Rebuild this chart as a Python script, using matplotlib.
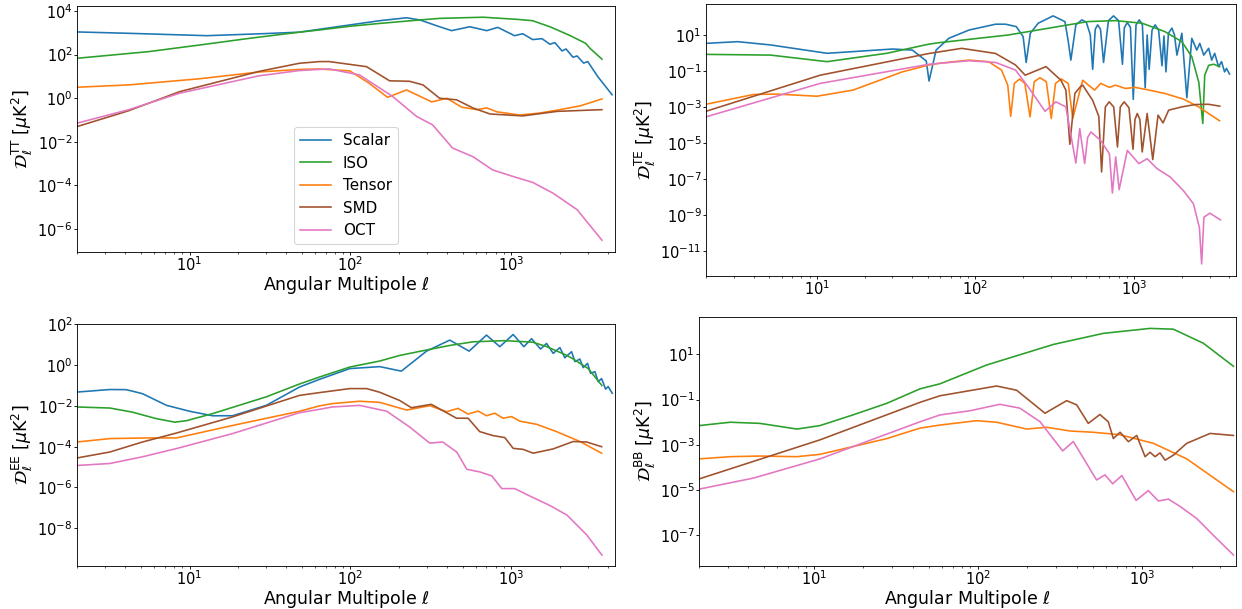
import matplotlib
matplotlib.use("Agg")
import matplotlib.pyplot as plt

# ---------------- TT ----------------
tt_ell_scalar = [2, 4.2, 12.8, 27, 48, 64, 99, 152, 223, 270, 358, 425, 551, 703, 822, 1046, 1176,
                 1354, 1548, 1735, 1863, 2061, 2184, 2413, 2557, 2810, 2980, 3440, 4220]
tt_scalar = [1100, 950, 740, 900, 1070, 1450, 2300, 3600, 4900, 3900, 1900, 1260, 1900, 1260, 1780,
             740, 910, 490, 540, 300, 355, 148, 182, 76, 87, 41, 48, 9.8, 1.45]
tt_ell_iso = [2, 5.6, 11.5, 23.6, 48, 64, 99, 152, 270, 358, 666, 1085, 1354, 1502, 1735, 2314,
              2890, 3076, 3650]
tt_iso = [68, 138, 275, 560, 1070, 1350, 2000, 2700, 3900, 4600, 5200, 4150, 3600, 2750, 1900, 750,
          330, 195, 62]
tt_ell_tensor = [2, 4.2, 11.5, 27, 48, 64, 99, 130, 170, 223, 320, 397, 490, 610, 703, 810, 1123,
                 1502, 2002, 2682, 3650]
tt_tensor = [3.2, 4.1, 7.8, 16, 21, 22, 18, 5, 1.1, 2.4, 0.68, 1.0, 0.39, 0.30, 0.36, 0.24, 0.17,
             0.21, 0.30, 0.45, 0.93]
tt_ell_smd = [2, 4.2, 8.67, 27, 48, 64, 74, 126, 175, 233, 282, 358, 456, 576, 736, 1176, 1919, 3650]
tt_smd = [0.05, 0.27, 2.0, 17, 40, 48, 48, 28, 6.3, 6.0, 4.1, 1.0, 0.85, 0.36, 0.19, 0.155, 0.25, 0.30]
tt_ell_oct = [2, 4.2, 8.67, 27, 48, 64, 74, 114, 183, 258, 324, 431, 576, 763, 1020, 1354, 1808,
              2557, 3650]
tt_oct = [0.072, 0.3, 1.7, 10.7, 18.6, 21, 22, 11.7, 1.2, 0.145, 0.06, 0.0052, 0.0021, 5.2e-4,
          2.6e-4, 1.39e-4, 4.5e-5, 7.8e-6, 3.1e-7]

# ---------------- TE ----------------
te_ell_scalar = [2, 3.17, 5.1, 11.6, 30, 40, 49, 51, 56.5, 68, 91, 134, 155, 181, 200, 209, 222, 249,
                 309, 367, 384, 400, 430, 469, 500, 530, 549, 570, 590, 615, 643, 690, 743, 800, 846,
                 870, 908, 950, 990, 1030, 1080, 1130, 1177, 1211, 1247, 1300, 1360, 1430, 1502,
                 1546, 1591, 1650, 1735, 1800, 1866, 2005, 2155, 2316, 2489, 2601, 2754, 2958, 3090,
                 3228, 3416, 3566, 3726, 3831, 4003]
te_scalar = [3.3, 4.1, 2.7, 0.93, 1.6, 1.4, 0.35, 0.027, 1.4, 6.3, 18, 38, 38, 28, 7.8, 0.29, 12, 43,
             110, 53, 5, 0.39, 35, 66, 50, 10, 0.12, 20, 35, 20, 0.29, 60, 110, 60, 0.23,
             25, 47, 25, 0.0026, 35, 66, 35, 0.0114, 9.6, 0.12, 18, 35, 18, 0.19,
             8.5, 0.087, 12, 23, 10, 0.74, 12, 0.0032, 6.3, 1.4, 3.3, 0.74, 1.75, 0.39,
             0.93, 0.17, 0.32, 0.087, 0.135, 0.066]
te_ell_iso = [2, 5.1, 11.6, 27.6, 51, 59, 161, 511, 764, 1127, 1570, 2005, 2316, 2564, 2716, 2794,
              2958, 3184, 3470]
te_iso = [0.81, 0.74, 0.32, 0.93, 3.0, 3.6, 9.6, 53, 60, 43, 14.7, 4.1, 0.6, 0.023, 1.2e-4, 0.057,
          0.2, 0.23, 0.17]
te_ell_tensor = [2, 4.0, 5.65, 10, 16.9, 34.6, 51, 59, 91, 121, 146, 160, 167, 176, 190, 205, 221,
                 235, 255, 280, 301, 320, 348, 385, 411, 475, 526, 565, 616, 701, 764, 883, 1019,
                 1247, 1570, 2050, 2559, 3467]
te_tensor = [0.0014, 0.0049, 0.0051, 0.0039, 0.0085, 0.087, 0.21, 0.26, 0.39, 0.32, 0.11, 0.016,
             3.0e-4, 0.02, 0.035, 0.02, 2.8e-4, 0.025, 0.041, 0.025, 2.3e-4, 0.02, 0.035, 0.02,
             2.3e-4, 0.03, 0.014, 0.0085, 0.02, 0.012, 0.016, 0.0105, 0.012, 0.0085, 0.0055,
             0.0027, 0.001, 1.7e-4]
te_ell_smd = [2, 10.5, 51, 82, 134, 179, 206, 279, 346, 372, 394, 424, 462, 475, 549, 600, 625, 660,
              698, 745, 787, 820, 867, 930, 986, 1015, 1049, 1090, 1127, 1211, 1314, 1419, 1525,
              1655, 2005, 2427, 2943, 3477]
te_smd = [5.7e-4, 0.057, 0.91, 1.75, 0.91, 0.21, 0.057, 0.17, 0.03, 0.0085, 8.5e-6, 0.0056, 0.014,
          0.016, 0.0023, 3e-4, 2.5e-7, 0.001, 0.0019, 0.001, 6e-6, 0.001, 0.0019, 0.0009, 4.5e-6,
          2e-4, 4.3e-4, 2e-4, 3.2e-6, 4.3e-4, 1.2e-6, 3.5e-4, 1.3e-4, 6.6e-4, 0.001, 0.00135,
          0.0014, 0.0011]
te_ell_oct = [2, 10.5, 51, 91, 134, 179, 215, 275, 322, 372, 430, 455, 489, 510, 535, 616, 700, 731,
              767, 806, 908, 1074, 1211, 1398, 1694, 2050, 2371, 2585, 2672, 2762, 3011, 3513]
te_oct = [2.8e-4, 0.02, 0.23, 0.36, 0.29, 0.11, 0.013, 5.7e-4, 0.0019, 0.001, 7.8e-7, 6.3e-5,
          7.3e-7, 2e-5, 4.1e-5, 1.4e-5, 2.5e-6, 1.7e-8, 1.7e-6, 2.6e-8, 3.9e-6, 7.2e-7, 1.35e-6,
          3.8e-7, 1.3e-7, 2.3e-8, 4.3e-9, 2.1e-10, 2e-12, 7.8e-10, 1.3e-9, 5.5e-10]

# ---------------- EE ----------------
ee_ell_scalar = [2, 3.2, 4.05, 5.1, 7.2, 10, 13.9, 18.5, 30, 48.3, 64, 99, 152, 207, 297, 414, 546,
                 700, 847, 1025, 1195, 1334, 1517, 1653, 1817, 2000, 2148, 2364, 2479, 2663, 2790,
                 2972, 3101, 3301, 3461, 3633, 3846, 3992, 4229]
ee_scalar = [0.048, 0.064, 0.063, 0.04, 0.0107, 0.0055, 0.0033, 0.0033, 0.0107, 0.085, 0.2, 0.68,
             0.85, 0.51, 4.9, 17, 4.9, 30, 8.1, 32, 8.1, 20, 6.2, 11.7, 3.8, 7.3, 2.3, 4.6, 1.5,
             2.0, 0.76, 1.23, 0.40, 0.48, 0.155, 0.22, 0.067, 0.089, 0.042]
ee_ell_iso = [2, 3.2, 4.4, 6.2, 8.1, 9.6, 13.9, 30, 48.3, 64, 99, 152, 202, 281, 414, 576, 900,
              1354, 1660, 2214, 2400, 3000, 3650]
ee_iso = [0.0089, 0.0079, 0.005, 0.0024, 0.0016, 0.0019, 0.0042, 0.028, 0.12, 0.26, 0.81, 1.6, 3.0,
          5.1, 9.3, 14, 16, 13.5, 8.1, 3.0, 2.1, 0.68, 0.10]
ee_ell_tensor = [2, 3.2, 5.6, 8.3, 11, 18.5, 48.3, 64, 77, 114, 152, 223, 311, 395, 466, 538, 621,
                 700, 788, 888, 1002, 1128, 1432, 1907, 2663, 3633]
ee_tensor = [1.7e-4, 2.5e-4, 2.7e-4, 2.7e-4, 4.4e-4, 0.0011, 0.0055, 0.01, 0.013, 0.017, 0.015,
             0.0063, 0.0103, 0.0052, 0.0076, 0.004, 0.0056, 0.0033, 0.0044, 0.0025, 0.003, 0.0018,
             0.00126, 5.5e-4, 1.8e-4, 4.8e-5]
ee_ell_smd = [2, 3.2, 5.1, 8.3, 18.5, 48.3, 64, 99, 126, 152, 202, 239, 318, 456, 538, 635, 769, 910,
              1025, 1182, 1365, 1817, 2419, 2930, 3633]
ee_smd = [2.8e-5, 5.5e-5, 1.7e-4, 4.7e-4, 0.0029, 0.033, 0.045, 0.071, 0.071, 0.047, 0.0186,
          0.0082, 0.012, 0.0025, 0.0025, 5.5e-4, 3.5e-4, 2.8e-4, 8.3e-5, 7.4e-5, 4.8e-5, 7.8e-5,
          1.8e-4, 1.7e-4, 1.0e-4]
ee_ell_oct = [2, 3.2, 5.1, 8.3, 18.5, 48.3, 64, 77, 114, 168, 233, 311, 374, 457, 528, 636, 755, 871,
              1049, 1301, 1735, 2214, 2944, 3650]
ee_oct = [1.2e-5, 1.5e-5, 3.2e-5, 8.1e-5, 4.4e-4, 0.0047, 0.0068, 0.0089, 0.0107, 0.0055, 9.3e-4,
          1.5e-4, 1.7e-4, 5.5e-5, 7.8e-6, 5.8e-6, 3.7e-6, 8.8e-7, 8.8e-7, 3.8e-7, 1.3e-7, 4.4e-8,
          4.6e-9, 4.8e-10]

# ---------------- BB ----------------
bb_ell_iso = [2, 3.1, 4.7, 7.9, 10.9, 17.3, 27.9, 44.4, 58.7, 113, 288, 580, 1117, 1549, 2361, 3597]
bb_iso = [0.0071, 0.01, 0.0089, 0.005, 0.0071, 0.021, 0.069, 0.3, 0.5, 3.4, 27.5, 85, 141, 130, 31, 3.0]
bb_ell_tensor = [2, 3.1, 4.7, 7.9, 10.9, 27.9, 44.4, 58.7, 98, 130, 198, 262, 364, 504, 734, 1170,
                 1870, 3597]
bb_tensor = [2.4e-4, 3.0e-4, 3.2e-4, 3.0e-4, 3.8e-4, 0.0019, 0.0055, 0.0075, 0.0117, 0.01, 0.005,
             0.006, 0.0041, 0.0036, 0.0028, 0.00117, 2.4e-4, 8.5e-6]
bb_ell_smd = [2, 10.9, 44.4, 58.7, 130, 172, 256, 347, 399, 470, 553, 622, 668, 734, 825, 927, 1042,
              1117, 1199, 1285, 1380, 1549, 1870, 2594, 3597]
bb_smd = [3.1e-5, 0.00166, 0.076, 0.148, 0.4, 0.26, 0.025, 0.09, 0.059, 0.0089, 0.022, 0.0105,
          0.0019, 0.0036, 0.00138, 0.0026, 3.0e-4, 4.7e-4, 3.0e-4, 4.4e-4, 2.1e-4, 3.5e-4, 0.00117,
          0.0032, 0.0026]
bb_ell_oct = [2, 4.3, 10.9, 44.4, 58.7, 89, 136, 180, 239, 328, 381, 528, 594, 662, 752, 919, 1091,
              1256, 1445, 1702, 2152, 2716, 3597]
bb_oct = [1.1e-5, 3.4e-5, 2.4e-4, 0.0105, 0.021, 0.032, 0.062, 0.042, 0.0105, 5.4e-4, 0.0014,
          2.8e-5, 4.7e-5, 1.9e-5, 4.4e-5, 3.5e-6, 9.5e-6, 3.3e-6, 4e-6, 1.9e-6, 5.5e-7, 1.0e-7,
          1.35e-8]

labels = ["Scalar", "ISO", "Tensor", "SMD", "OCT"]
colors = ["tab:blue", "tab:green", "tab:orange", "sienna", "tab:pink"]

panels = [
    ("TT", [(tt_ell_scalar, tt_scalar), (tt_ell_iso, tt_iso), (tt_ell_tensor, tt_tensor),
            (tt_ell_smd, tt_smd), (tt_ell_oct, tt_oct)],
     [77, 6, 615, 252], (8.9e-8, 1.7e4), 4400, True),
    ("TE", [(te_ell_scalar, te_scalar), (te_ell_iso, te_iso), (te_ell_tensor, te_tensor),
            (te_ell_smd, te_smd), (te_ell_oct, te_oct)],
     [706, 4, 1236, 276], (4.3e-13, 500), 4400, False),
    ("EE", [(ee_ell_scalar, ee_scalar), (ee_ell_iso, ee_iso), (ee_ell_tensor, ee_tensor),
            (ee_ell_smd, ee_smd), (ee_ell_oct, ee_oct)],
     [77, 324, 615, 566], (1.4e-10, 105), 4400, True),
    ("BB", [None, (bb_ell_iso, bb_iso), (bb_ell_tensor, bb_tensor),
            (bb_ell_smd, bb_smd), (bb_ell_oct, bb_oct)],
     [699, 317, 1236, 566], (4.4e-9, 450), 3730, True),
]

W, H = 1242, 609
DPI = 78
fig = plt.figure(figsize=(W / DPI, H / DPI), dpi=DPI)

for name, series, box, ylim, xmax, show_xlabel in panels:
    x0, y0, x1, y1 = box
    ax = fig.add_axes([x0 / W, 1 - y1 / H, (x1 - x0) / W, (y1 - y0) / H])
    for s, lab, col in zip(series, labels, colors):
        if s is None:
            continue
        ax.plot(s[0], s[1], color=col, lw=1.5, label=lab)
    ax.set_xscale("log")
    ax.set_yscale("log")
    ax.set_xlim(2, xmax)
    ax.set_ylim(*ylim)
    ax.tick_params(labelsize=13.5, length=2.5, pad=1.5)
    ax.tick_params(axis="x", pad=0.5)
    ax.tick_params(which="minor", length=1.5)
    ax.set_ylabel(r"$\mathcal{D}_\ell^{\rm %s}$ [$\mu$K$^2$]" % name, fontsize=16, labelpad=2)
    if show_xlabel:
        ax.set_xlabel(r"Angular Multipole $\ell$", fontsize=16, labelpad=0)
    if name == "TT":
        ax.legend(loc="lower center", fontsize=14)

fig.savefig("out.png", dpi=DPI)
